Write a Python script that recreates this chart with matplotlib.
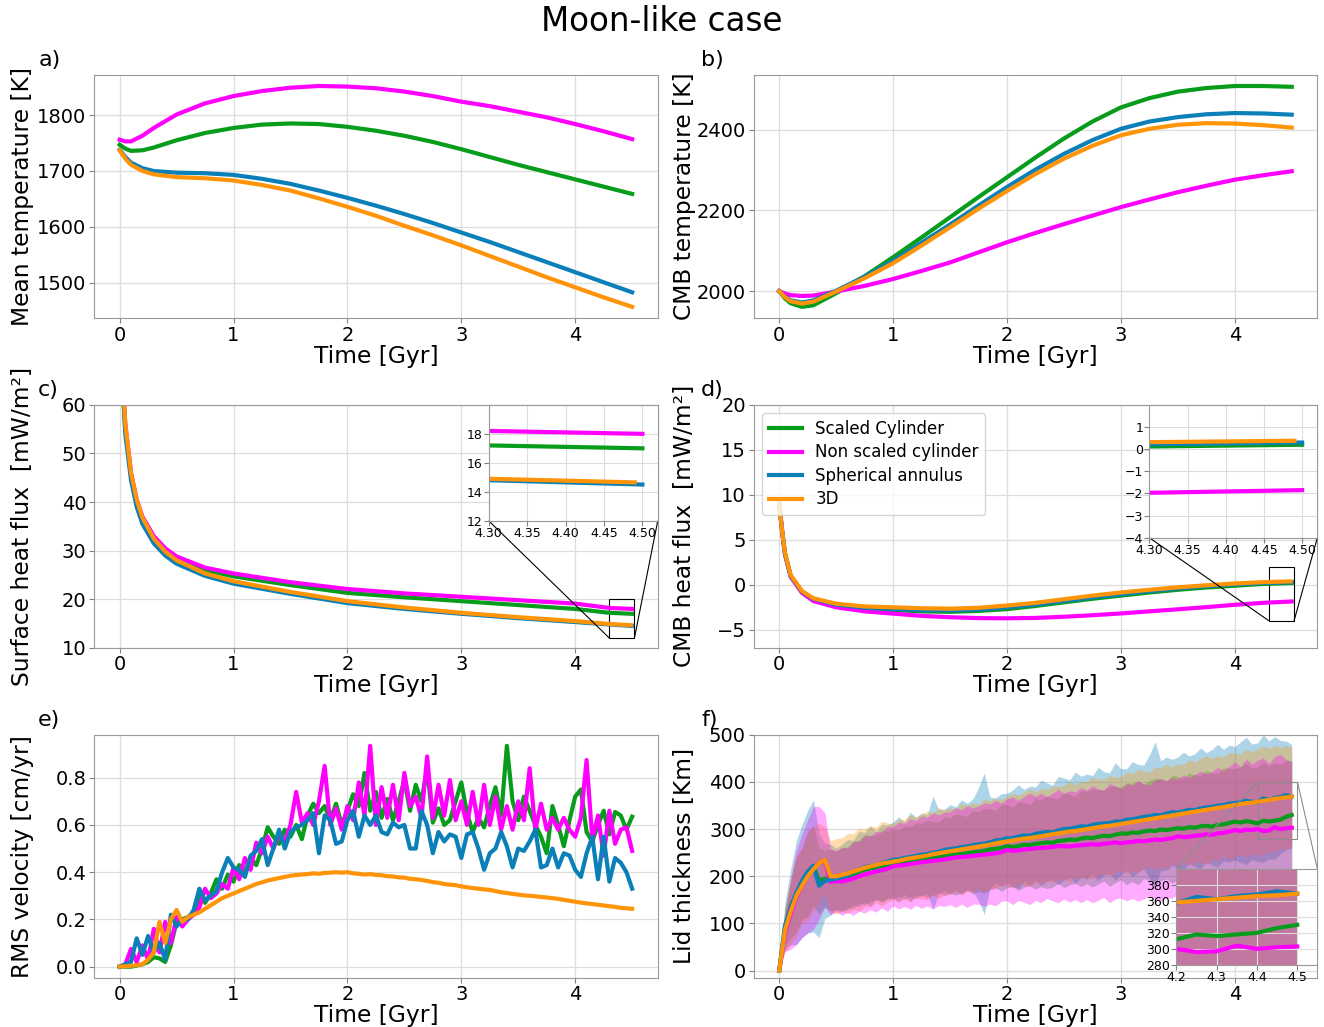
import numpy as np
import matplotlib.pyplot as plt
from matplotlib.ticker import FormatStrFormatter
from mpl_toolkits.axes_grid1.inset_locator import mark_inset

labels = ['Scaled Cylinder', 'Non scaled cylinder', 'Spherical annulus', '3D']
colors = ['#089c1c', '#ff00ff', '#0b80b8', '#ff9408']

# ---- a) mean temperature, b) CMB temperature
t_ab = [0, 0.05, 0.1, 0.2, 0.3, 0.5, 0.75, 1, 1.25, 1.5, 1.75, 2, 2.25, 2.5,
        2.75, 3, 3.25, 3.5, 3.75, 4, 4.25, 4.5]
tmean_green = [1747, 1740, 1736, 1737, 1742, 1755, 1768, 1777, 1783, 1785, 1784, 1779,
               1772, 1763, 1752, 1739, 1725, 1711, 1698, 1685, 1672, 1659]
tmean_mag = [1756, 1753, 1753, 1763, 1777, 1801, 1821, 1834, 1843, 1849, 1852, 1851,
             1848, 1842, 1834, 1824, 1816, 1806, 1796, 1784, 1771, 1757]
tmean_blue = [1738, 1725, 1715, 1705, 1700, 1697, 1696, 1693, 1686, 1677, 1665, 1652,
              1638, 1623, 1607, 1590, 1573, 1555, 1537, 1519, 1501, 1483]
tmean_orange = [1737, 1722, 1711, 1700, 1694, 1689, 1687, 1683, 1675, 1665, 1651, 1636,
                1620, 1602, 1585, 1567, 1548, 1529, 1510, 1492, 1474, 1457]

tcmb_green = [2000, 1982, 1970, 1961, 1965, 1995, 2037, 2084, 2133, 2183, 2233, 2282,
              2331, 2378, 2420, 2455, 2478, 2494, 2503, 2508, 2508, 2506]
tcmb_mag = [2000, 1994, 1990, 1988, 1989, 1999, 2013, 2030, 2050, 2071, 2096, 2121,
            2144, 2166, 2187, 2208, 2227, 2245, 2261, 2276, 2287, 2297]
tcmb_blue = [2000, 1986, 1977, 1972, 1977, 2001, 2036, 2075, 2120, 2165, 2212, 2258,
             2301, 2340, 2374, 2402, 2420, 2431, 2438, 2441, 2440, 2437]
tcmb_orange = [2000, 1985, 1975, 1969, 1974, 1999, 2032, 2069, 2113, 2158, 2204, 2248,
               2290, 2328, 2360, 2386, 2402, 2412, 2416, 2415, 2411, 2405]

# ---- c) surface heat flux
t_c = [0, 0.02, 0.05, 0.1, 0.15, 0.2, 0.3, 0.4, 0.5, 0.75, 1, 1.5, 2, 2.5, 3, 3.5,
       4, 4.3, 4.5]
t_c_orange = t_c[:-1] + [4.49]
qs_green = [80, 67, 55, 45.5, 40, 36.5, 32.5, 30, 28.3, 26, 24.7, 22.9, 21.3, 20.4,
            19.6, 18.8, 18.0, 17.2, 17.0]
qs_mag = [80, 68, 56, 46, 40.5, 37, 33, 30.5, 28.8, 26.5, 25.3, 23.5, 22.1, 21.2,
          20.5, 19.8, 19.1, 18.2, 18.0]
qs_blue = [80, 66, 54, 44.5, 39, 35.5, 31.5, 29, 27.3, 24.8, 23.2, 21.1, 19.2, 18.0,
           17.0, 16.1, 15.3, 14.8, 14.5]
qs_orange = [80, 68, 56, 46, 40.5, 36.8, 32.5, 29.8, 28, 25.3, 23.7, 21.5, 19.6, 18.3,
             17.2, 16.3, 15.5, 14.9, 14.65]

# ---- d) CMB heat flux
t_d = [0, 0.025, 0.05, 0.1, 0.2, 0.3, 0.5, 0.75, 1, 1.25, 1.5, 1.75, 2, 2.25, 2.5,
       2.75, 3, 3.25, 3.5, 3.75, 4, 4.25, 4.5]
t_d_orange = t_d[:-1] + [4.49]
qc_green = [9, 6, 3.5, 1.0, -0.8, -1.6, -2.3, -2.65, -2.8, -2.95, -3.0, -2.9, -2.7,
            -2.35, -1.95, -1.55, -1.2, -0.85, -0.55, -0.3, -0.1, 0.1, 0.2]
qc_mag = [9, 6, 3.4, 0.9, -0.9, -1.8, -2.5, -2.95, -3.2, -3.45, -3.6, -3.7, -3.72,
          -3.68, -3.55, -3.38, -3.18, -2.95, -2.72, -2.48, -2.22, -2.0, -1.85]
qc_blue = [9, 6, 3.5, 1.0, -0.75, -1.55, -2.2, -2.55, -2.7, -2.8, -2.85, -2.75, -2.5,
           -2.2, -1.8, -1.4, -1.05, -0.7, -0.4, -0.15, 0.05, 0.2, 0.3]
qc_orange = [9, 6, 3.6, 1.1, -0.7, -1.5, -2.1, -2.4, -2.5, -2.6, -2.65, -2.55, -2.3,
             -2.0, -1.6, -1.2, -0.85, -0.55, -0.28, -0.05, 0.15, 0.3, 0.38]

# ---- e) rms velocity, f) lid thickness (0.05 Gyr output steps)
t_out = np.linspace(0, 4.5, 91)
vrms_green = [0.00, 0.00, 0.00, 0.005, 0.01, 0.02, 0.04, 0.035, 0.02, 0.09,
              0.19, 0.20, 0.21, 0.23, 0.30, 0.27, 0.31, 0.37, 0.33, 0.39,
              0.36, 0.43, 0.40, 0.46, 0.43, 0.50, 0.59, 0.55, 0.52, 0.58,
              0.55, 0.60, 0.54, 0.64, 0.69, 0.65, 0.68, 0.62, 0.69, 0.60,
              0.66, 0.73, 0.68, 0.82, 0.66, 0.74, 0.63, 0.71, 0.62, 0.70,
              0.79, 0.66, 0.77, 0.70, 0.84, 0.61, 0.67, 0.60, 0.62, 0.70,
              0.78, 0.65, 0.57, 0.63, 0.59, 0.68, 0.76, 0.64, 0.935, 0.70,
              0.62, 0.72, 0.66, 0.60, 0.55, 0.48, 0.68, 0.60, 0.51, 0.62,
              0.72, 0.75, 0.57, 0.53, 0.60, 0.66, 0.56, 0.655, 0.64, 0.58, 0.635]
vrms_mag = [0.0, 0.01, 0.075, 0.02, 0.09, 0.03, 0.16, 0.06, 0.19, 0.10,
            0.21, 0.17, 0.20, 0.22, 0.25, 0.33, 0.29, 0.31, 0.35, 0.33,
            0.42, 0.37, 0.46, 0.41, 0.525, 0.48, 0.55, 0.50, 0.56, 0.53,
            0.60, 0.74, 0.61, 0.65, 0.60, 0.70, 0.85, 0.60, 0.67, 0.58,
            0.68, 0.62, 0.78, 0.64, 0.935, 0.60, 0.76, 0.63, 0.77, 0.62,
            0.82, 0.68, 0.72, 0.63, 0.89, 0.63, 0.77, 0.64, 0.79, 0.62,
            0.70, 0.60, 0.74, 0.60, 0.77, 0.60, 0.72, 0.58, 0.68, 0.58,
            0.70, 0.62, 0.84, 0.58, 0.69, 0.58, 0.63, 0.58, 0.63, 0.58,
            0.55, 0.63, 0.875, 0.54, 0.64, 0.47, 0.66, 0.52, 0.58, 0.59, 0.49]
vrms_blue = [0.0, 0.01, 0.02, 0.12, 0.05, 0.13, 0.06, 0.10, 0.03, 0.22,
             0.17, 0.20, 0.20, 0.24, 0.33, 0.28, 0.30, 0.32, 0.40, 0.46,
             0.42, 0.41, 0.38, 0.47, 0.49, 0.54, 0.43, 0.50, 0.58, 0.50,
             0.57, 0.59, 0.60, 0.62, 0.65, 0.48, 0.64, 0.62, 0.52, 0.53,
             0.62, 0.66, 0.55, 0.64, 0.60, 0.64, 0.57, 0.56, 0.61, 0.59,
             0.60, 0.50, 0.50, 0.66, 0.60, 0.48, 0.57, 0.53, 0.56, 0.55,
             0.46, 0.56, 0.57, 0.50, 0.41, 0.48, 0.50, 0.57, 0.51, 0.42,
             0.50, 0.49, 0.53, 0.58, 0.42, 0.43, 0.50, 0.42, 0.48, 0.47,
             0.41, 0.38, 0.48, 0.55, 0.37, 0.55, 0.36, 0.46, 0.44, 0.40, 0.33]
vrms_orange = [0.0, 0.002, 0.004, 0.006, 0.01, 0.03, 0.06, 0.19, 0.10, 0.20,
               0.24, 0.19, 0.21, 0.22, 0.23, 0.245, 0.26, 0.275, 0.29, 0.30,
               0.31, 0.32, 0.33, 0.34, 0.35, 0.357, 0.365, 0.37, 0.375, 0.38,
               0.385, 0.388, 0.39, 0.392, 0.395, 0.393, 0.397, 0.398, 0.40, 0.398,
               0.40, 0.395, 0.393, 0.39, 0.392, 0.388, 0.387, 0.383, 0.382, 0.378,
               0.377, 0.372, 0.37, 0.367, 0.363, 0.358, 0.355, 0.35, 0.347, 0.345,
               0.34, 0.336, 0.333, 0.33, 0.327, 0.325, 0.32, 0.315, 0.312, 0.308,
               0.305, 0.302, 0.30, 0.298, 0.295, 0.293, 0.29, 0.287, 0.283, 0.279,
               0.275, 0.271, 0.268, 0.265, 0.262, 0.259, 0.256, 0.253, 0.249, 0.247, 0.245]

lid_green = [0, 90, 130, 160, 185, 205, 222, 190, 195, 192,
             190, 193, 198, 203, 210, 214, 217, 219, 222, 224,
             226, 228, 229, 231, 233, 236, 237, 238, 240, 243,
             244, 246, 247, 249, 251, 252, 254, 257, 258, 260,
             264, 262, 264, 267, 266, 269, 270, 272, 271, 275,
             276, 278, 277, 280, 282, 281, 284, 286, 285, 288,
             291, 290, 293, 292, 295, 297, 296, 299, 298, 300,
             302, 301, 304, 303, 306, 307, 305, 309, 310, 313,
             316, 314, 317, 315, 312, 318, 316, 318, 320, 326, 330]
lid_mag = [0, 80, 120, 155, 180, 200, 218, 228, 235, 188,
           190, 189, 192, 195, 200, 204, 207, 210, 213, 216,
           221, 223, 224, 226, 228, 230, 231, 233, 234, 236,
           238, 240, 241, 242, 243, 245, 246, 247, 249, 251,
           256, 254, 255, 257, 258, 259, 260, 261, 262, 264,
           264, 263, 265, 266, 267, 268, 267, 269, 270, 272,
           270, 272, 273, 275, 274, 276, 278, 277, 279, 281,
           285, 283, 284, 286, 287, 289, 288, 291, 292, 295,
           298, 296, 299, 298, 300, 296, 297, 304, 300, 302, 303]
lid_blue = [0, 95, 135, 165, 190, 210, 222, 180, 190, 193,
            195, 198, 203, 208, 215, 219, 222, 223, 228, 231,
            235, 236, 239, 241, 243, 246, 247, 250, 252, 256,
            258, 259, 262, 263, 266, 268, 269, 272, 276, 277,
            281, 281, 284, 287, 286, 290, 292, 294, 293, 297,
            300, 301, 303, 306, 305, 309, 311, 312, 313, 316,
            316, 320, 321, 323, 326, 327, 330, 329, 333, 336,
            335, 338, 341, 340, 344, 346, 347, 350, 351, 354,
            355, 357, 360, 358, 357, 365, 362, 366, 368, 372, 369]
lid_orange = [0, 85, 125, 158, 180, 200, 215, 228, 235, 200,
              200, 203, 206, 210, 214, 218, 221, 224, 227, 229,
              231, 233, 236, 238, 240, 242, 244, 247, 249, 251,
              253, 255, 257, 259, 261, 263, 265, 267, 270, 272,
              274, 276, 278, 280, 281, 283, 285, 287, 289, 291,
              293, 295, 296, 298, 300, 302, 304, 306, 307, 309,
              311, 313, 315, 317, 319, 321, 323, 325, 327, 329,
              331, 333, 335, 337, 339, 341, 343, 345, 347, 349,
              351, 353, 355, 356, 358, 360, 362, 364, 366, 367, 369]

# spread of lid thickness over the domain
sd_green = [0, 40, 60, 80, 75, 90, 85, 70, 60, 65,
            62, 68, 64, 72, 66, 74, 70, 68, 76, 72,
            74, 70, 78, 73, 80, 76, 82, 78, 75, 84,
            80, 86, 82, 78, 88, 84, 90, 86, 82, 92,
            88, 84, 94, 90, 86, 96, 92, 98, 94, 90,
            100, 96, 92, 102, 98, 104, 100, 96, 106, 102,
            98, 108, 104, 110, 100, 106, 112, 108, 104, 114,
            110, 106, 116, 112, 108, 118, 114, 110, 120, 116,
            112, 118, 122, 114, 120, 124, 118, 122, 116, 120, 115]
sd_mag = [0, 40, 75, 100, 110, 120, 130, 120, 100, 70,
          65, 72, 68, 78, 74, 82, 78, 86, 80, 90,
          84, 92, 88, 96, 90, 98, 94, 102, 96, 100,
          98, 106, 100, 108, 102, 104, 110, 106, 112, 104,
          108, 114, 106, 112, 118, 110, 116, 108, 114, 120,
          112, 118, 114, 122, 116, 124, 118, 114, 126, 120,
          116, 124, 120, 128, 122, 118, 126, 130, 124, 128,
          122, 132, 126, 130, 136, 128, 134, 140, 132, 138,
          145, 136, 150, 140, 146, 155, 142, 150, 158, 145, 140]
sd_blue = [0, 50, 80, 110, 120, 130, 140, 110, 80, 75,
           65, 70, 75, 68, 80, 74, 85, 72, 82, 78,
           80, 90, 76, 95, 82, 88, 84, 120, 90, 86,
           94, 88, 100, 92, 98, 120, 150, 96, 90, 98,
           95, 102, 110, 97, 105, 99, 112, 104, 100, 115,
           108, 103, 118, 106, 112, 104, 120, 110, 106, 125,
           112, 108, 122, 114, 110, 130, 155, 116, 120, 112,
           118, 125, 114, 120, 128, 116, 122, 130, 118, 124,
           120, 128, 135, 122, 126, 135, 125, 130, 120, 115, 110]
sd_orange = [0, 45, 70, 85, 80, 95, 90, 85, 70, 75,
             80, 78, 85, 80, 88, 82, 86, 80, 90, 84,
             80, 88, 84, 92, 86, 90, 94, 87, 96, 90,
             92, 88, 97, 91, 95, 89, 99, 93, 96, 90,
             95, 100, 93, 98, 104, 96, 101, 97, 103, 99,
             100, 106, 98, 104, 100, 108, 102, 99, 107, 101,
             100, 108, 103, 110, 104, 100, 109, 105, 111, 103,
             108, 104, 112, 106, 110, 115, 107, 111, 105, 113,
             110, 106, 114, 108, 112, 116, 109, 113, 107, 110, 105]

plt.rcParams['font.family'] = 'DejaVu Sans'
fig, axs = plt.subplots(3, 2, figsize=(13.24, 10.27), dpi=100)
plt.subplots_adjust(left=0.071, right=0.995, top=0.927, bottom=0.048,
                    wspace=0.17, hspace=0.358)
fig.suptitle('Moon-like case', fontsize=23.5, y=0.995)


def style(ax, ylabel, letter, col):
    ax.set_xlabel('Time [Gyr]', fontsize=16.8, labelpad=0)
    ax.set_ylabel(ylabel, fontsize=16.8)
    ax.yaxis.set_label_coords(-0.107 if col == 0 else -0.103, 0.5)
    ax.tick_params(labelsize=14, color='0.5', pad=2)
    ax.grid(True, color='#dddddd', lw=0.9)
    ax.set_axisbelow(True)
    for s in ax.spines.values():
        s.set_color('0.6')
    ax.text(-0.099 if col == 0 else -0.093, 1.02, letter, transform=ax.transAxes,
            fontsize=16, va='bottom')


def style_inset(ax):
    ax.tick_params(labelsize=9, color='0.5', pad=1)
    ax.grid(True, color='#dddddd', lw=0.8)
    for s in ax.spines.values():
        s.set_color('0.6')


lw = 3
ax = axs[0, 0]
for y, c, lab in zip([tmean_green, tmean_mag, tmean_blue, tmean_orange], colors, labels):
    ax.plot(t_ab, y, color=c, lw=lw, label=lab)
style(ax, 'Mean temperature [K]', 'a)', 0)

ax = axs[0, 1]
for y, c in zip([tcmb_green, tcmb_mag, tcmb_blue, tcmb_orange], colors):
    ax.plot(t_ab, y, color=c, lw=lw)
style(ax, 'CMB temperature [K]', 'b)', 1)

ax = axs[1, 0]
ins = ax.inset_axes([0.70, 0.523, 0.30, 0.477])
for tt, y, c in zip([t_c, t_c, t_c, t_c_orange], [qs_green, qs_mag, qs_blue, qs_orange], colors):
    ax.plot(tt, y, color=c, lw=lw)
    ins.plot(tt, y, color=c, lw=lw)
ax.set_ylim(10, 60)
style(ax, 'Surface heat flux  [mW/m²]', 'c)', 0)
ins.set_xlim(4.3, 4.52)
ins.set_ylim(12, 20)
ins.set_xticks([4.30, 4.35, 4.40, 4.45, 4.50])
ins.set_yticks([12, 14, 16, 18])
ins.xaxis.set_major_formatter(FormatStrFormatter('%.2f'))
style_inset(ins)
mark_inset(ax, ins, loc1=3, loc2=4, fc='none', ec='k', lw=0.8)

ax = axs[1, 1]
ins = ax.inset_axes([0.702, 0.453, 0.298, 0.547])
for tt, y, c, lab in zip([t_d, t_d, t_d, t_d_orange], [qc_green, qc_mag, qc_blue, qc_orange],
                         colors, labels):
    ax.plot(tt, y, color=c, lw=lw, label=lab)
    ins.plot(tt, y, color=c, lw=lw)
ax.set_ylim(-7, 20)
style(ax, 'CMB heat flux  [mW/m²]', 'd)', 1)
ax.legend(loc='upper left', fontsize=12, labelspacing=0.33)
ins.set_xlim(4.3, 4.52)
ins.set_ylim(-4, 2)
ins.set_xticks([4.30, 4.35, 4.40, 4.45, 4.50])
ins.set_yticks([-4, -3, -2, -1, 0, 1])
ins.xaxis.set_major_formatter(FormatStrFormatter('%.2f'))
style_inset(ins)
mark_inset(ax, ins, loc1=3, loc2=4, fc='none', ec='k', lw=0.8)

ax = axs[2, 0]
for y, c in zip([vrms_green, vrms_mag, vrms_blue, vrms_orange], colors):
    ax.plot(t_out, y, color=c, lw=lw)
style(ax, 'RMS velocity [cm/yr]', 'e)', 0)

ax = axs[2, 1]
ins = ax.inset_axes([0.75, 0.053, 0.25, 0.395])
lids = [lid_green, lid_mag, lid_blue, lid_orange]
sds = [sd_green, sd_mag, sd_blue, sd_orange]
for k in [2, 0, 3, 1]:
    m = np.array(lids[k])
    s = np.array(sds[k])
    for a in (ax, ins):
        a.fill_between(t_out, m - s, m + s, color=colors[k], alpha=0.33, lw=0)
for k in range(4):
    for a in (ax, ins):
        a.plot(t_out, lids[k], color=colors[k], lw=lw)
ax.set_ylim(-15, 500)
style(ax, 'Lid thickness [Km]', 'f)', 1)
ins.set_xlim(4.2, 4.55)
ins.set_ylim(280, 400)
ins.set_xticks([4.2, 4.3, 4.4, 4.5])
ins.set_yticks([280, 300, 320, 340, 360, 380])
style_inset(ins)
mark_inset(ax, ins, loc1=2, loc2=1, fc='none', ec='0.55', lw=0.8)

fig.savefig('out.png', dpi=100)
